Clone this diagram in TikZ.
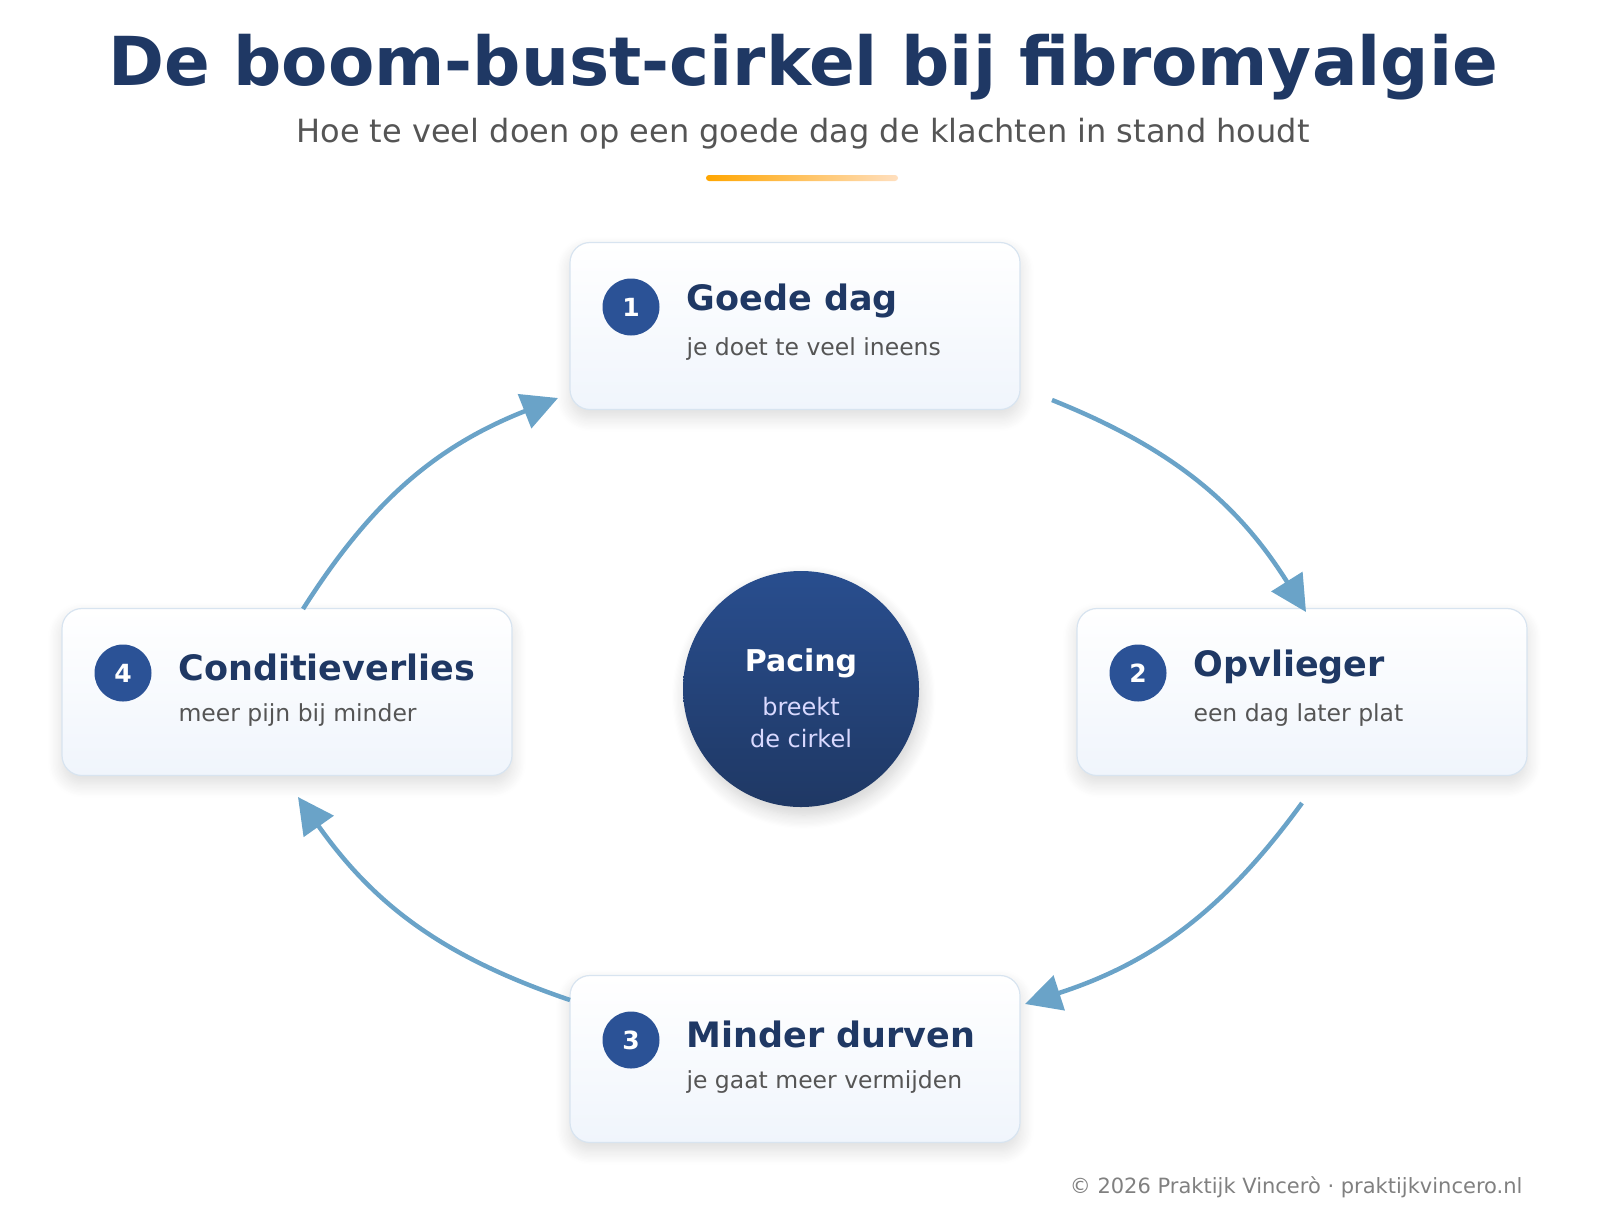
\documentclass[tikz,border=0pt]{standalone}
\usepackage{fontspec}
\setmainfont{DejaVu Sans}
\usetikzlibrary{arrows.meta,shadows.blur}
\definecolor{navy}{HTML}{1F3864}
\definecolor{badge}{HTML}{2B5296}
\definecolor{arr}{HTML}{6AA3C8}
\definecolor{sub}{HTML}{555555}
\definecolor{bord}{HTML}{D8E4F0}
\definecolor{boxb}{HTML}{F0F5FC}
\begin{document}
\begin{tikzpicture}[x=1pt,y=-1pt,
 box/.style={draw=bord,line width=1.2pt,rounded corners=20pt,minimum width=450pt,minimum height=167pt,top color=white,bottom color=boxb,blur shadow={shadow blur steps=12,shadow blur radius=14pt,shadow xshift=0pt,shadow yshift=-8pt,shadow opacity=14}},
 bdg/.style={circle,fill=badge,minimum size=57pt,inner sep=0pt,text=white,font=\bfseries\fontsize{25}{28}\selectfont},
 ttl/.style={anchor=west,text=navy,font=\bfseries\fontsize{35}{40}\selectfont},
 st/.style={anchor=west,text=sub,font=\fontsize{23.5}{27}\selectfont},
 con/.style={draw=arr,line width=4.5pt,-{Triangle[length=36pt,width=36pt]}}]
\useasboundingbox (0,0) rectangle (1600,1216);
\node[text=navy,font=\bfseries\fontsize{67.5}{76}\selectfont] (t) at (803,67) {De boom-bust-cirkel bij fibromyalgie};
\node[text=sub,font=\fontsize{32}{38}\selectfont] (s) at (803,134) {Hoe te veel doen op een goede dag de klachten in stand houdt};
\shade[left color=orange!70!yellow,right color=orange!25!white,rounded corners=3pt] (706,175) rectangle (898,181);
\node[box] (b1) at (795,326) {};
\node[box] (b2) at (1302,692) {};
\node[box] (b3) at (795,1059) {};
\node[box] (b4) at (287,692) {};
\foreach \b/\n/\T/\S in {b1/1/Goede dag/je doet te veel ineens, b2/2/Opvlieger/een dag later plat, b3/3/Minder durven/je gaat meer vermijden, b4/4/Conditieverlies/meer pijn bij minder}{
 \node[bdg] (\b n) at ([xshift=-164pt,yshift=19pt]\b.center) {\n};
 \node[ttl] (\b t) at ([xshift=-112pt,yshift=25pt]\b.center) {\T};
 \node[st] (\b s) at ([xshift=-112pt,yshift=-23pt]\b.center) {\S};
}
\node[circle,minimum size=236pt,top color=badge!95!black,bottom color=navy,blur shadow={shadow blur steps=12,shadow blur radius=14pt,shadow yshift=-8pt,shadow opacity=18}] (c) at (801,689) {};
\node[text=white,font=\bfseries\fontsize{30}{34}\selectfont] (cp) at (801,663) {Pacing};
\node[text=blue!15!white,align=center,font=\fontsize{24}{32}\selectfont] (cb) at (801,723) {breekt\\de cirkel};
\coordinate (a1) at (1052,400); \coordinate (e1) at (1306,612);
\coordinate (a2) at (1302,803); \coordinate (e2) at (1025,1004);
\coordinate (a3) at (570,1000); \coordinate (e3) at (298,797);
\coordinate (a4) at (303,609); \coordinate (e4) at (558,398);
\draw[con] (a1) to[bend left=18] (e1);
\draw[con] (a2) to[bend left=18] (e2);
\draw[con] (a3) to[bend left=18] (e3);
\draw[con] (a4) to[bend left=18] (e4);
\node[anchor=east,text=gray,font=\fontsize{21}{24}\selectfont] (f) at (1526,1187) {© 2026 Praktijk Vincerò · praktijkvincero.nl};
\end{tikzpicture}
\end{document}
